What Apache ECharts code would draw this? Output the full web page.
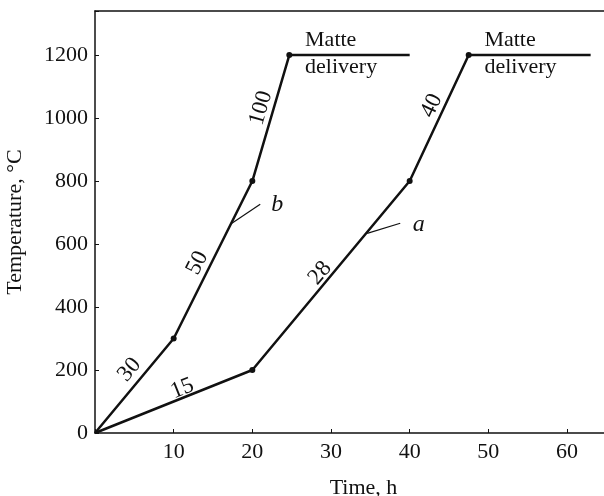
<!DOCTYPE html>
<html>
<head>
<meta charset="utf-8">
<script src="https://cdn.jsdelivr.net/npm/echarts@6/dist/echarts.min.js"></script>
<style>
  html, body { margin: 0; padding: 0; background: #fff; }
  #chart { width: 604px; height: 496px; }
</style>
</head>
<body>
<div id="chart"></div>
<script>
// temperature regimes of two heating schedules
const curveB = [[0, 0], [10, 300], [20, 800], [24.7, 1200], [40, 1200]];
const curveA = [[0, 0], [20, 200], [40, 800], [47.5, 1200], [63, 1200]];

// slope labels along the segments: [x, y, text, angle]
const slopeLabels = [
  [4.4, 201, '30', 50],
  [11.1, 141, '15', 22],
  [13.0, 540, '50', 63],
  [21.1, 1032, '100', 74],
  [28.6, 508, '28', 50],
  [42.8, 1039, '40', 65]
];
// leader lines to the curve names
const leaders = [
  { name: 'b', from: [17.4, 666], to: [21.0, 726], text: [22.4, 726] },
  { name: 'a', from: [34.6, 634], to: [38.8, 666], text: [40.4, 660] }
];
const notes = [[26.7, 1247, 'Matte'], [26.7, 1160, 'delivery'], [49.5, 1247, 'Matte'], [49.5, 1160, 'delivery']];

const FONT = 'Liberation Serif';
const INK = '#111';

const chart = echarts.init(document.getElementById('chart'));

const dotSize = (v, p) => (p.dataIndex === 0 || p.dataIndex === 4 ? 0 : 6);

const option = {
  animation: false,
  grid: { left: 95, top: 11, right: 0, bottom: 63, outerBoundsMode: 'none', containLabel: false },
  xAxis: [
    {
      type: 'value', min: 0, max: 64.7, interval: 10,
      name: 'Time, h', nameLocation: 'middle', nameGap: 44,
      nameTextStyle: { fontFamily: FONT, fontSize: 22, color: INK, padding: [0, 0, 0, 28] },
      axisLine: { lineStyle: { color: INK, width: 1.5 } },
      axisTick: { inside: true, length: 4, lineStyle: { color: INK } },
      axisLabel: {
        fontFamily: FONT, fontSize: 22, color: INK, margin: 8,
        formatter: v => (v === 0 || v % 10 !== 0 ? '' : v)
      },
      splitLine: { show: false }
    },
    {
      type: 'value', position: 'top', min: 0, max: 64.7,
      axisLine: { show: true, lineStyle: { color: INK, width: 1.5 } },
      axisTick: { show: false }, axisLabel: { show: false }, splitLine: { show: false }
    }
  ],
  yAxis: {
    type: 'value', min: 0, max: 1340, interval: 200,
    name: 'Temperature, °C', nameLocation: 'middle', nameGap: 69,
    nameTextStyle: { fontFamily: FONT, fontSize: 22, color: INK },
    axisLine: { show: true, lineStyle: { color: INK, width: 1.5 } },
    axisTick: { inside: true, length: 4, lineStyle: { color: INK } },
    axisLabel: {
      fontFamily: FONT, fontSize: 22, color: INK, margin: 7,
      formatter: v => (v % 200 !== 0 ? '' : v)
    },
    splitLine: { show: false }
  },
  series: [
    {
      name: 'b', type: 'line', data: curveB, symbol: 'circle', symbolSize: dotSize,
      lineStyle: { color: INK, width: 2.5 }, itemStyle: { color: INK }
    },
    {
      name: 'a', type: 'line', data: curveA, symbol: 'circle', symbolSize: dotSize,
      lineStyle: { color: INK, width: 2.5 }, itemStyle: { color: INK }
    }
  ]
};
chart.setOption(option);

// annotations placed through the chart's own coordinate system
const px = p => chart.convertToPixel({ gridIndex: 0 }, p);
const txt = (extra) => Object.assign({ fontFamily: FONT, fontSize: 22, fill: INK, verticalAlign: 'middle' }, extra);
const graphic = [];
slopeLabels.forEach(([x, y, t, ang]) => {
  const [gx, gy] = px([x, y]);
  graphic.push({
    type: 'text', x: gx, y: gy, rotation: ang * Math.PI / 180,
    style: txt({ text: t, fontSize: 23, align: 'center' })
  });
});
leaders.forEach(l => {
  const a = px(l.from), b = px(l.to), c = px(l.text);
  graphic.push({ type: 'line', shape: { x1: a[0], y1: a[1], x2: b[0], y2: b[1] }, style: { stroke: INK, lineWidth: 1.2 } });
  graphic.push({
    type: 'text', x: c[0], y: c[1],
    style: txt({ text: l.name, fontStyle: 'italic', fontSize: 24, align: 'left' })
  });
});
notes.forEach(([x, y, t]) => {
  const [gx, gy] = px([x, y]);
  graphic.push({
    type: 'text', x: gx, y: gy,
    style: txt({ text: t, align: 'left' })
  });
});
chart.setOption({ graphic: graphic });
</script>
</body>
</html>
